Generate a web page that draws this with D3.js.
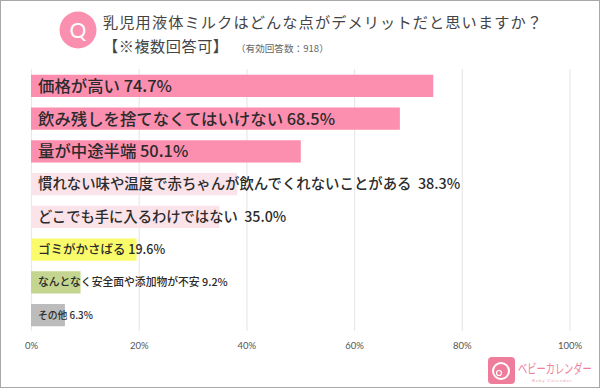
<!DOCTYPE html>
<html>
<head>
<meta charset="utf-8">
<script src="https://cdn.jsdelivr.net/npm/d3@7"></script>
<style>
  html, body { margin: 0; padding: 0; background: #fff; }
  svg { display: block; font-family: "Noto Sans CJK JP", "Noto Sans", sans-serif; }
</style>
</head>
<body>
<svg id="chart" width="600" height="388"></svg>
<script>
const categories = ["価格が高い", "飲み残しを捨てなくてはいけない", "量が中途半端", "慣れない味や温度で赤ちゃんが飲んでくれないことがある", "どこでも手に入るわけではない", "ゴミがかさばる", "なんとなく安全面や添加物が不安", "その他"];
const values = [74.7, 68.5, 50.1, 38.3, 35.0, 19.6, 9.2, 6.3];
const barColors = ["#fc8fb0", "#fc8fb0", "#fc8fb0", "#fbe3ea", "#fbe3ea", "#f9fb6a", "#c3d58e", "#bcbcbc"];
const labelSizes = [16.4, 16.4, 16.4, 14.4, 14.3, 12.5, 10.8, 9.8];
const labelGaps = [" ", " ", " ", "  ", "  ", " ", " ", " "];
const xTicks = [0, 20, 40, 60, 80, 100];

const svg = d3.select("#chart");
const margin = { left: 31, right: 30.5, top: 69, bottom: 331 };

const x = d3.scaleLinear().domain([0, 100]).range([margin.left, 600 - margin.right]);
const y = d3.scaleBand().domain(categories).range([margin.top + 0.5, margin.bottom + 0.5]).paddingInner(0.32).paddingOuter(0.16);

// outer frame of the picture
svg.append("rect").attr("x", 0.5).attr("y", 0.5).attr("width", 599).attr("height", 387)
    .attr("fill", "#fff").attr("stroke", "#a8a8a8");

// title block
svg.append("circle").attr("cx", 78).attr("cy", 30).attr("r", 18.5).attr("fill", "#fb8fb0");
svg.append("text").attr("x", 78).attr("y", 37.5).attr("text-anchor", "middle")
    .attr("font-family", "Lato, sans-serif").attr("font-size", 21).attr("fill", "#fff").text("Q");
svg.append("text").attr("x", 103).attr("y", 28).attr("font-size", 15.2).attr("fill", "#444")
    .attr("textLength", 439).attr("lengthAdjust", "spacing")
    .text("乳児用液体ミルクはどんな点がデメリットだと思いますか？");
svg.append("text").attr("x", 103).attr("y", 52).attr("font-size", 15.2).attr("fill", "#444")
    .attr("textLength", 125).attr("lengthAdjust", "spacing").text("【※複数回答可】");
svg.append("text").attr("x", 236).attr("y", 52).attr("font-size", 9.6).attr("fill", "#666").text("（有効回答数：918）");

// grid and axis from the scale
const axis = d3.axisBottom(x).tickValues(xTicks).tickFormat(d => d + "%").tickSize(-(margin.bottom - margin.top)).tickPadding(11);
const gx = svg.append("g").attr("transform", `translate(0,${margin.bottom})`).call(axis);
gx.select(".domain").remove();
gx.selectAll(".tick line").attr("stroke", "#e8e8e8").attr("stroke-width", 1.2);
gx.selectAll(".tick text").attr("font-size", 9.5).attr("fill", "#555").attr("font-family", "Lato, sans-serif");

// bars
svg.selectAll(".bar").data(categories).join("rect")
    .attr("class", "bar")
    .attr("x", x(0))
    .attr("y", d => y(d))
    .attr("width", (d, i) => x(values[i]) - x(0))
    .attr("height", y.bandwidth())
    .attr("fill", (d, i) => barColors[i]);

// labels sit on top of the bars
svg.selectAll(".label").data(categories).join("text")
    .attr("class", "label")
    .attr("x", x(0) + 7)
    .attr("y", d => y(d) + y.bandwidth() / 2)
    .attr("dy", "0.36em")
    .attr("font-size", (d, i) => labelSizes[i])
    .attr("font-weight", 500)
    .attr("fill", "#2b2b2b")
    .style("white-space", "pre")
    .text((d, i) => d + labelGaps[i] + values[i].toFixed(1) + "%");

// logo
const logo = svg.append("g");
logo.append("rect").attr("x", 488).attr("y", 357).attr("width", 27).attr("height", 27).attr("rx", 4).attr("fill", "#ee7d9c");
logo.append("circle").attr("cx", 501).attr("cy", 371).attr("r", 8).attr("fill", "none").attr("stroke", "#fff").attr("stroke-width", 2);
logo.append("circle").attr("cx", 499).attr("cy", 373).attr("r", 2.5).attr("fill", "none").attr("stroke", "#fff").attr("stroke-width", 1.2);
logo.append("text").attr("transform", "translate(518,373) scale(0.71,1)").attr("font-size", 13).attr("fill", "#ee7d9c")
    .text("ベビーカレンダー");
logo.append("text").attr("x", 532).attr("y", 382).attr("font-size", 4.5).attr("fill", "#e9a8ba")
    .attr("letter-spacing", 0.9).attr("font-family", "Lato, sans-serif").text("Baby Calendar");
</script>
</body>
</html>
